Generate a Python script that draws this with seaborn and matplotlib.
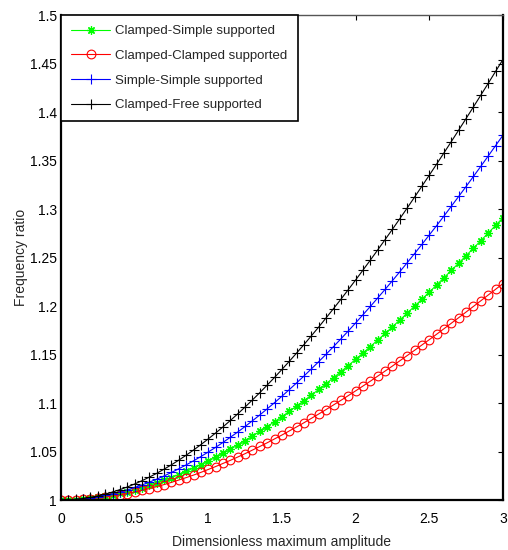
import matplotlib
matplotlib.use("Agg")
import matplotlib.pyplot as plt
import seaborn as sns
from matplotlib.ticker import FixedLocator, FuncFormatter

# Dimensionless maximum amplitude (0 to 3, step 0.05)
amplitude = [round(0.05 * i, 2) for i in range(61)]

# Frequency ratio for each boundary condition
clamped_simple = [
    1.0000, 1.0001, 1.0004, 1.0010, 1.0017, 1.0027, 1.0039, 1.0052, 1.0068, 1.0086,
    1.0105, 1.0127, 1.0150, 1.0176, 1.0203, 1.0232, 1.0262, 1.0295, 1.0329, 1.0364,
    1.0402, 1.0441, 1.0481, 1.0524, 1.0567, 1.0613, 1.0659, 1.0707, 1.0757, 1.0808,
    1.0860, 1.0914, 1.0968, 1.1025, 1.1082, 1.1140, 1.1200, 1.1261, 1.1323, 1.1386,
    1.1450, 1.1515, 1.1582, 1.1649, 1.1717, 1.1786, 1.1856, 1.1926, 1.1998, 1.2070,
    1.2143, 1.2217, 1.2292, 1.2367, 1.2443, 1.2519, 1.2596, 1.2674, 1.2752, 1.2831,
    1.2910,
]
clamped_clamped = [
    1.0000, 1.0001, 1.0003, 1.0008, 1.0014, 1.0021, 1.0030, 1.0041, 1.0054, 1.0067,
    1.0083, 1.0100, 1.0118, 1.0138, 1.0159, 1.0182, 1.0206, 1.0231, 1.0257, 1.0285,
    1.0315, 1.0345, 1.0377, 1.0409, 1.0443, 1.0478, 1.0515, 1.0552, 1.0590, 1.0630,
    1.0670, 1.0712, 1.0754, 1.0797, 1.0842, 1.0887, 1.0933, 1.0980, 1.1027, 1.1076,
    1.1125, 1.1175, 1.1225, 1.1277, 1.1329, 1.1381, 1.1435, 1.1489, 1.1543, 1.1598,
    1.1653, 1.1709, 1.1766, 1.1823, 1.1880, 1.1938, 1.1996, 1.2054, 1.2113, 1.2172,
    1.2231,
]
simple_simple = [
    1.0000, 1.0001, 1.0005, 1.0012, 1.0021, 1.0033, 1.0047, 1.0064, 1.0083, 1.0104,
    1.0129, 1.0155, 1.0184, 1.0215, 1.0248, 1.0284, 1.0322, 1.0362, 1.0404, 1.0448,
    1.0495, 1.0543, 1.0594, 1.0647, 1.0701, 1.0758, 1.0817, 1.0877, 1.0940, 1.1004,
    1.1070, 1.1138, 1.1208, 1.1279, 1.1352, 1.1427, 1.1503, 1.1581, 1.1661, 1.1742,
    1.1825, 1.1910, 1.1995, 1.2083, 1.2171, 1.2261, 1.2353, 1.2446, 1.2540, 1.2635,
    1.2732, 1.2829, 1.2928, 1.3029, 1.3130, 1.3232, 1.3336, 1.3440, 1.3546, 1.3653,
    1.3760,
]
clamped_free = [
    1.0000, 1.0002, 1.0007, 1.0015, 1.0027, 1.0042, 1.0061, 1.0082, 1.0107, 1.0134,
    1.0165, 1.0199, 1.0236, 1.0275, 1.0318, 1.0363, 1.0411, 1.0462, 1.0515, 1.0571,
    1.0630, 1.0691, 1.0754, 1.0820, 1.0888, 1.0959, 1.1032, 1.1107, 1.1185, 1.1264,
    1.1346, 1.1430, 1.1516, 1.1603, 1.1693, 1.1784, 1.1878, 1.1973, 1.2069, 1.2168,
    1.2268, 1.2370, 1.2473, 1.2578, 1.2684, 1.2791, 1.2900, 1.3010, 1.3122, 1.3235,
    1.3348, 1.3463, 1.3579, 1.3696, 1.3814, 1.3933, 1.4053, 1.4174, 1.4295, 1.4418,
    1.4541,
]

labels = [
    "Clamped-Simple supported",
    "Clamped-Clamped supported",
    "Simple-Simple supported",
    "Clamped-Free supported",
]
x_ticks = [0, 0.5, 1, 1.5, 2, 2.5, 3]
y_ticks = [1, 1.05, 1.1, 1.15, 1.2, 1.25, 1.3, 1.35, 1.4, 1.45, 1.5]

sns.set_style("white")
plt.rcParams["font.family"] = ["Liberation Sans", "DejaVu Sans"]
FS = 10
LEG_FS = 9.5

fig = plt.figure(figsize=(5.08, 5.50), dpi=100)
ax = fig.add_axes([0.120, 0.0909, 0.870, 0.8818])

# 8-armed asterisk marker
asterisk = (8, 2, 0)
styles = [
    dict(color="#00ff00", marker=asterisk, markersize=6, markeredgewidth=0.9),
    dict(color="#ff0000", marker="o", markersize=6.3, markerfacecolor="none",
         markeredgewidth=0.8),
    dict(color="#0000ff", marker="+", markersize=6.5, markeredgewidth=0.8),
    dict(color="#000000", marker="+", markersize=6.5, markeredgewidth=0.8),
]
series = [clamped_simple, clamped_clamped, simple_simple, clamped_free]

for values, label, st in zip(series, labels, styles):
    sns.lineplot(x=amplitude, y=values, ax=ax, label=label, linewidth=0.8,
                 markeredgecolor=st["color"], **st)

ax.set_xlim(0, 3)
ax.set_ylim(1, 1.5)
ax.xaxis.set_major_locator(FixedLocator(x_ticks))
ax.yaxis.set_major_locator(FixedLocator(y_ticks))
fmt = FuncFormatter(lambda v, p: f"{v:g}")
ax.xaxis.set_major_formatter(fmt)
ax.yaxis.set_major_formatter(fmt)
ax.tick_params(direction="in", length=3.5, width=0.8, colors="black",
               labelsize=FS, top=True, right=True)
ax.tick_params(axis="x", pad=8.3)
ax.tick_params(axis="y", pad=3)

ax.set_xlabel("Dimensionless maximum amplitude", fontsize=FS, labelpad=6.7)
ax.set_ylabel("Frequency ratio", fontsize=FS, labelpad=1.5)

for side in ["left", "bottom", "right"]:
    ax.spines[side].set_color("black")
    ax.spines[side].set_linewidth(1.6)
ax.spines["top"].set_color("#555555")
ax.spines["top"].set_linewidth(1.0)

leg = ax.legend(loc="upper left", bbox_to_anchor=(0, 1), borderaxespad=0,
                fontsize=LEG_FS, fancybox=False, framealpha=1, edgecolor="black",
                labelspacing=0.95, handlelength=3.0, handletextpad=0.38,
                borderpad=0.75)
leg.get_frame().set_linewidth(1.2)

fig.savefig("out.png", dpi=100)
